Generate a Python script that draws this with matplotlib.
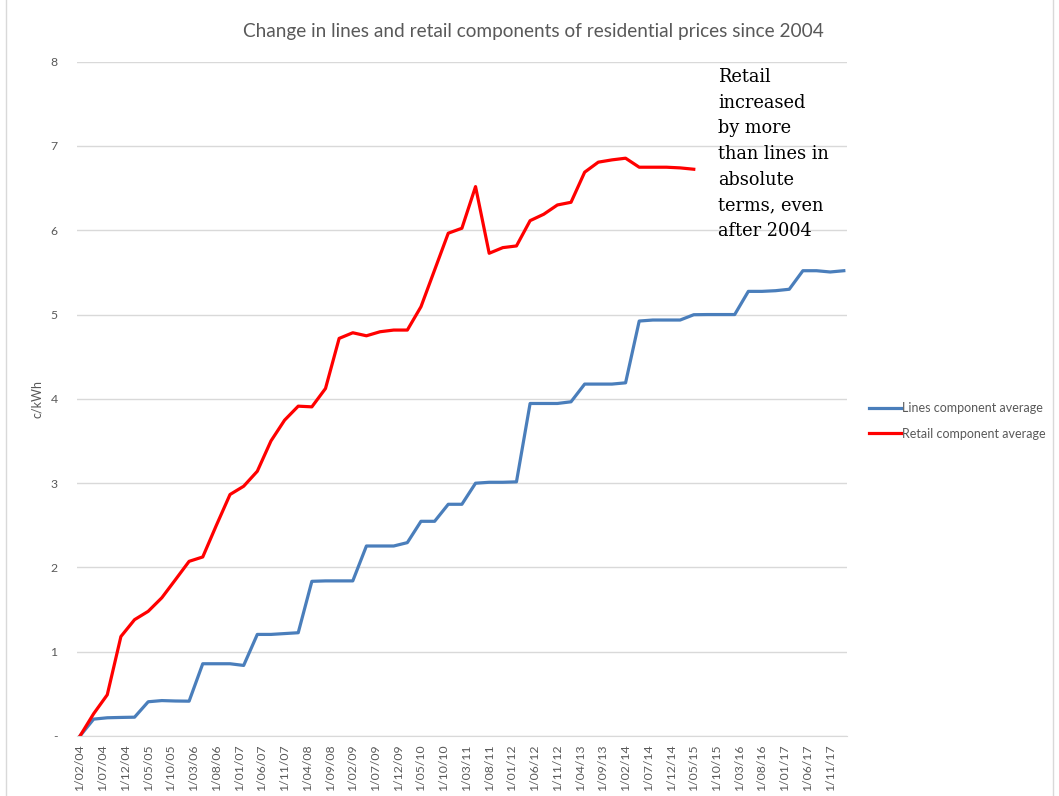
import numpy as np
import matplotlib
matplotlib.use("Agg")
import matplotlib.pyplot as plt
from matplotlib.patches import Rectangle

plt.rcParams['font.family'] = ['Lato', 'DejaVu Sans']

# quarterly values, c/kWh change since Feb 2004
lines_avg = [0, 0.20, 0.216, 0.22, 0.223, 0.406, 0.42, 0.415, 0.413, 0.857,
             0.857, 0.857, 0.837, 1.205, 1.205, 1.215, 1.225, 1.835, 1.84, 1.84,
             1.84, 2.254, 2.254, 2.254, 2.294, 2.547, 2.547, 2.749, 2.749, 2.999,
             3.01, 3.01, 3.015, 3.945, 3.945, 3.945, 3.965, 4.175, 4.175, 4.175,
             4.19, 4.923, 4.935, 4.935, 4.935, 4.998, 5.0, 5.0, 5.0, 5.275,
             5.275, 5.283, 5.30, 5.52, 5.52, 5.505, 5.52]
retail_avg = [0, 0.264, 0.489, 1.18, 1.38, 1.479, 1.64, 1.855, 2.072, 2.124,
              2.50, 2.865, 2.963, 3.141, 3.50, 3.747, 3.913, 3.905, 4.123, 4.717,
              4.784, 4.748, 4.796, 4.816, 4.816, 5.093, 5.529, 5.965, 6.024, 6.518,
              5.727, 5.794, 5.814, 6.114, 6.19, 6.30, 6.332, 6.689, 6.808, 6.835,
              6.855, 6.748, 6.748, 6.748, 6.74, 6.724]

# x tick labels, one every 5 months from Feb 2004
tick_labels = ['1/02/04', '1/07/04', '1/12/04', '1/05/05', '1/10/05', '1/03/06',
               '1/08/06', '1/01/07', '1/06/07', '1/11/07', '1/04/08', '1/09/08',
               '1/02/09', '1/07/09', '1/12/09', '1/05/10', '1/10/10', '1/03/11',
               '1/08/11', '1/01/12', '1/06/12', '1/11/12', '1/04/13', '1/09/13',
               '1/02/14', '1/07/14', '1/12/14', '1/05/15', '1/10/15', '1/03/16',
               '1/08/16', '1/01/17', '1/06/17', '1/11/17']
y_labels = ['-', '1', '2', '3', '4', '5', '6', '7', '8']

grey = '#595959'

# months since Feb 2004
x_lines = np.arange(len(lines_avg)) * 3
x_retail = np.arange(len(retail_avg)) * 3

fig = plt.figure(figsize=(10.59, 7.96), dpi=100)
ax = fig.add_axes([0.0727, 0.0754, 0.7271, 0.8471])

ax.plot(x_lines, lines_avg, color='#4A7EBB', lw=2.3, label='Lines component average',
        solid_joinstyle='round')
ax.plot(x_retail, retail_avg, color='#FF0000', lw=2.3, label='Retail component average',
        solid_joinstyle='round')

ax.set_ylim(0, 8)
ax.set_xlim(-0.66, 168.7)
ax.set_yticks(range(len(y_labels)))
ax.set_yticklabels(y_labels)
ax.set_xticks(np.arange(len(tick_labels)) * 5)
ax.set_xticklabels(tick_labels, rotation=90)
ax.tick_params(axis='both', length=0, colors=grey, labelsize=8.8)
ax.tick_params(axis='y', pad=14)
ax.tick_params(axis='x', pad=6)
ax.grid(axis='y', color='#D9D9D9', lw=1)
ax.set_axisbelow(True)
for s in ax.spines.values():
    s.set_visible(False)
ax.spines['bottom'].set_visible(True)
ax.spines['bottom'].set_color('#D9D9D9')

ax.set_ylabel('c/kWh', color=grey, fontsize=9, labelpad=5)

fig.text(533/1059, 1 - 31/796, 'Change in lines and retail components of residential prices since 2004',
         ha='center', va='center', color=grey, fontsize=13.7)

fig.text(718/1059, 1 - 68/796,
         'Retail\nincreased\nby more\nthan lines in\nabsolute\nterms, even\nafter 2004',
         ha='left', va='top', family='DejaVu Serif', fontsize=12.8, linespacing=1.55,
         color='black')

leg = fig.legend(loc='center left', bbox_to_anchor=(858/1059, 1 - 421/796),
                 frameon=False, fontsize=9, handlelength=2.5, handletextpad=0.1,
                 labelspacing=1.05)
for t in leg.get_texts():
    t.set_color(grey)

fig.patches.append(Rectangle((6/1059, -0.01), (1053-6)/1059, 1.02, transform=fig.transFigure,
                             fill=False, edgecolor='#D9D9D9', lw=1))

fig.savefig('out.png', dpi=100)
